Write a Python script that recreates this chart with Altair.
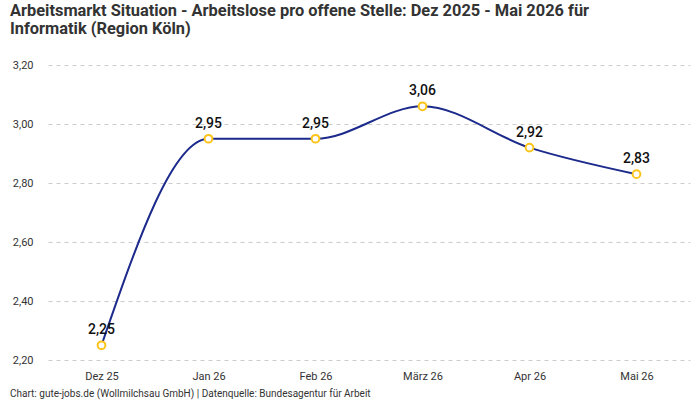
import altair as alt
import pandas as pd

months = ["Dez 25", "Jan 26", "Feb 26", "März 26", "Apr 26", "Mai 26"]
values = [2.25, 2.95, 2.95, 3.06, 2.92, 2.83]
y_ticks = [2.2, 2.4, 2.6, 2.8, 3.0, 3.2]

title_lines = [
    "Arbeitsmarkt Situation - Arbeitslose pro offene Stelle: Dez 2025 - Mai 2026 für",
    "Informatik (Region Köln)",
]
footer = "Chart: gute-jobs.de (Wollmilchsau GmbH) | Datenquelle: Bundesagentur für Arbeit"

df = pd.DataFrame({"Monat": months, "Wert": values})

FONT = "Roboto"
LINE = "#1c2a8c"
DOT = "#fcc419"

x = alt.X(
    "Monat:N",
    sort=months,
    scale=alt.Scale(paddingInner=0, paddingOuter=0, align=0.5),
    axis=alt.Axis(
        title=None, domain=False, ticks=False, grid=False,
        labelAngle=0, labelFont=FONT, labelFontSize=11, labelColor="#333333",
        labelPadding=10,
    ),
)
y = alt.Y(
    "Wert:Q",
    scale=alt.Scale(domain=[2.2, 3.2], nice=False, zero=False),
    axis=alt.Axis(
        title=None, domain=False, ticks=False, values=y_ticks,
        labelExpr="replace(format(datum.value, '.2f'), '.', ',')",
        labelFont=FONT, labelFontSize=11, labelColor="#333333", labelPadding=15,
        gridDash=[4, 4], gridColor="#cccccc", gridWidth=1,
    ),
)

base = alt.Chart(df).encode(x=x, y=y)

line = base.mark_line(interpolate="monotone", color=LINE, strokeWidth=2)
points = base.mark_point(
    filled=True, fill="white", stroke=DOT, strokeWidth=2, size=60, opacity=1
)
labels = base.transform_calculate(
    txt="replace(format(datum.Wert, '.2f'), '.', ',')"
).mark_text(
    dy=-15, font=FONT, fontSize=14, fontWeight=500, color="#111111"
).encode(text="txt:N")

foot = alt.Chart(pd.DataFrame({"t": [footer]})).mark_text(
    align="left", baseline="alphabetic", font=FONT, fontSize=10, color="#333333"
).encode(x=alt.value(-38), y=alt.value(332), text="t:N")

chart = (
    alt.layer(line, points, labels, foot)
    .properties(
        width=642,
        height=295,
        autosize=alt.AutoSizeParams(type="none"),
        padding={"left": 48, "top": 65, "right": 10, "bottom": 40},
        title=alt.TitleParams(
            text=title_lines,
            anchor="start",
            frame="group",
            font=FONT,
            fontSize=16.4,
            fontWeight="bold",
            color="#333333",
            lineHeight=18,
            dx=-38,
            offset=22,
        ),
    )
    .configure_view(stroke=None)
)

chart.save("out.html", embed_options={"renderer": "svg", "actions": False})
